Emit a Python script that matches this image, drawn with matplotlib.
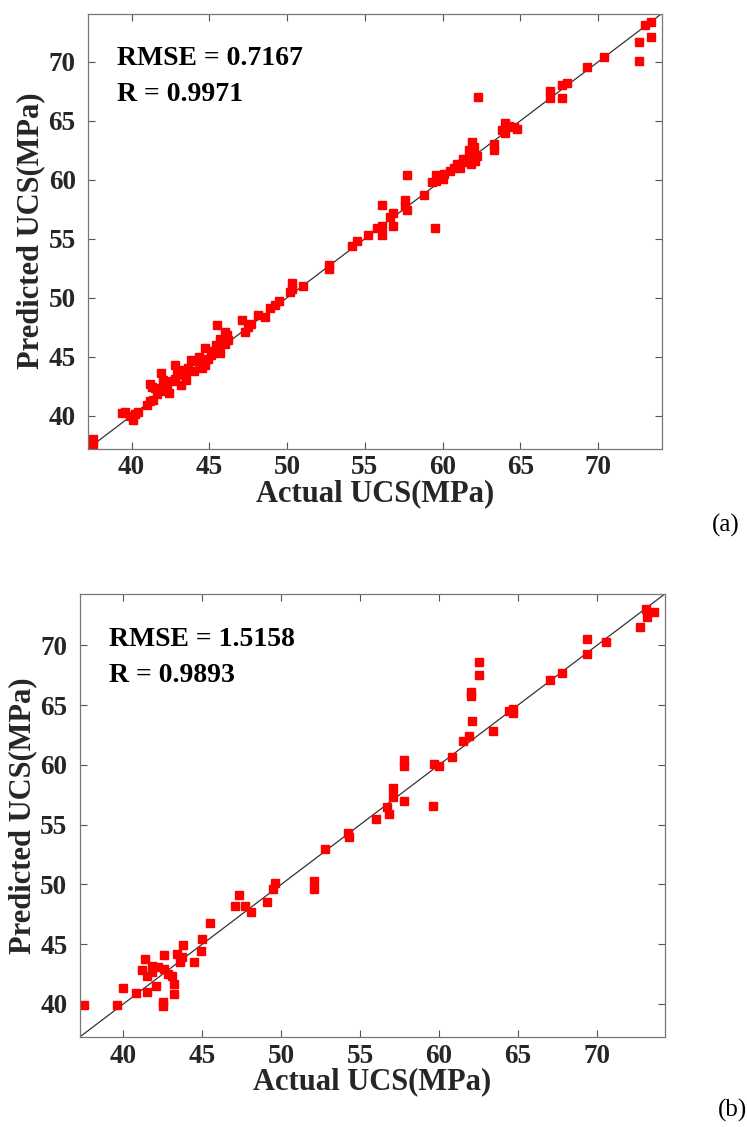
import matplotlib
matplotlib.use("Agg")
import matplotlib.pyplot as plt

plt.rcParams['font.family'] = ['Liberation Serif', 'DejaVu Serif']

# (a) actual vs predicted UCS
actual_a = [37.5, 37.5, 39.4, 39.6, 39.9, 40.1, 40.4, 40.2, 41.0, 41.2, 41.4, 41.2,
            41.5, 41.8, 41.9, 42.0, 42.3, 42.4, 42.1, 42.8, 42.8, 43.0, 43.2, 43.4,
            43.6, 43.8, 43.5, 44.0, 44.7, 44.7, 45.1, 45.2, 44.9, 45.5, 46.0, 45.7,
            46.0, 45.7, 46.1, 47.1, 47.3, 47.5, 47.7, 48.1, 48.6, 48.9, 49.2, 49.5,
            50.2, 50.3, 50.3, 51.0, 52.7, 52.7, 54.2, 54.5, 55.2, 55.8, 56.1, 56.1,
            56.1, 56.6, 56.8, 56.8, 57.6, 57.7, 57.6, 57.7, 58.8, 59.5, 59.3, 59.6,
            59.6, 59.8, 60.0, 60.1, 60.5, 60.9, 61.1, 60.7, 61.3, 61.3, 61.5, 61.7,
            61.8, 61.9, 62.0, 62.0, 62.1, 62.2, 62.3, 63.3, 63.3, 63.8, 64.0, 64.0,
            64.3, 64.6, 64.8, 66.9, 66.9, 67.7, 67.7, 68.0, 69.3, 70.35, 72.6, 72.6,
            73.0, 73.4, 73.4,
            41.6, 42.6, 43.3, 44.2, 44.5, 45.4, 46.2, 41.3, 42.9, 44.3]
pred_a = [38.0, 37.5, 40.2, 40.3, 40.0, 39.6, 40.3, 40.1, 40.9, 41.2, 41.3, 42.7,
          42.3, 42.1, 43.6, 43.0, 42.3, 41.9, 42.5, 44.3, 43.1, 43.5, 42.6, 43.4,
          44.0, 44.7, 43.0, 43.8, 45.7, 44.3, 45.1, 45.5, 44.8, 47.7, 47.1, 45.3,
          46.1, 46.5, 46.8, 48.1, 47.1, 47.5, 47.8, 48.5, 48.4, 49.1, 49.4, 49.7,
          50.5, 51.2, 50.7, 51.0, 52.8, 52.4, 54.4, 54.8, 55.3, 55.9, 56.1, 55.3,
          57.9, 56.8, 57.2, 56.1, 58.3, 57.4, 57.8, 60.4, 58.7, 55.9, 59.8, 60.4,
          59.9, 60.2, 60.1, 60.5, 60.7, 61.3, 61.0, 61.0, 61.5, 61.8, 61.8, 62.5,
          61.3, 63.2, 62.8, 62.2, 61.6, 62.0, 67.0, 63.0, 62.5, 64.2, 64.8, 64.0,
          64.6, 64.5, 64.3, 67.5, 66.9, 66.9, 68.0, 68.2, 69.6, 70.4, 71.7, 70.1,
          73.1, 73.4, 72.1,
          41.8, 42.9, 43.9, 44.6, 44.0, 46.0, 46.4, 42.4, 43.6, 45.0]

# (b) actual vs predicted UCS
actual_b = [37.5, 39.6, 40.0, 40.8, 41.4, 41.2, 41.5, 41.5, 41.8, 41.8, 42.1, 42.2,
            42.5, 42.5, 42.6, 42.6, 42.8, 43.1, 43.2, 43.2, 43.4, 43.6, 43.7, 43.8,
            44.5, 44.9, 45.0, 45.5, 47.1, 47.3, 47.7, 48.1, 49.1, 49.5, 49.6, 52.1,
            52.1, 52.75, 54.2, 54.3, 56.0, 56.7, 56.8, 57.1, 57.1, 57.8, 57.8, 57.8,
            59.6, 59.7, 60.0, 60.8, 61.5, 61.9, 62.1, 62.0, 62.0, 62.5, 62.5, 63.4,
            64.4, 64.7, 64.7, 67.0, 67.8, 69.4, 69.4, 70.6, 72.7, 73.1, 73.2, 73.6]
pred_b = [39.9, 39.9, 41.3, 40.9, 43.8, 42.8, 42.3, 41.0, 43.2, 42.7, 41.5, 43.1,
          40.2, 39.8, 44.1, 42.9, 42.5, 42.3, 41.7, 40.8, 44.2, 43.5, 43.9, 44.9,
          43.5, 44.4, 45.4, 46.8, 48.2, 49.1, 48.2, 47.7, 48.5, 49.6, 50.1, 50.3,
          49.6, 53.0, 54.3, 54.0, 55.5, 56.5, 55.9, 57.3, 58.1, 60.4, 59.9, 57.0,
          56.6, 60.1, 59.9, 60.7, 62.0, 62.4, 63.7, 66.1, 65.8, 67.5, 68.6, 62.8,
          64.5, 64.7, 64.3, 67.1, 67.7, 70.5, 69.3, 70.3, 71.5, 73.0, 72.4, 72.8]

ticks = [40, 45, 50, 55, 60, 65, 70]
panels = [
    (actual_a, pred_a, (37.2, 74.1), "RMSE = 0.7167", "R = 0.9971", "(a)",
     [0.118, 0.602, 0.768, 0.386]),
    (actual_b, pred_b, (37.25, 74.3), "RMSE = 1.5158", "R = 0.9893", "(b)",
     [0.107, 0.080, 0.783, 0.393]),
]

fig = plt.figure(figsize=(7.47, 11.27), dpi=100)

for act, pred, lim, rmse_txt, r_txt, tag, rect in panels:
    ax = fig.add_axes(rect)
    ax.plot(lim, lim, color='#333333', lw=0.9, zorder=1)
    ax.plot(act, pred, 's', color='#ff0000', mec='#ff0000', ms=5.8, zorder=2)
    ax.set_xlim(lim)
    ax.set_ylim(lim)
    ax.set_xticks(ticks)
    ax.set_yticks(ticks)
    ax.tick_params(direction='in', length=5, width=0.8, color='#555555',
                   top=True, right=True, labelsize=19.5, labelcolor='#262626')
    ax.tick_params(axis='y', pad=9)
    ax.tick_params(axis='x', pad=5)
    for lab in ax.get_xticklabels() + ax.get_yticklabels():
        lab.set_fontweight('bold')
    for sp in ax.spines.values():
        sp.set_color('#777777')
        sp.set_linewidth(0.9)
    ax.set_xlabel("Actual UCS(MPa)", fontsize=22, fontweight='bold',
                  color='#262626', labelpad=-1)
    ax.set_ylabel("Predicted UCS(MPa)", fontsize=22, fontweight='bold',
                  color='#262626', labelpad=2)
    ax.text(0.05, 0.897, rmse_txt, transform=ax.transAxes, fontsize=20,
            fontweight='bold', va='center', ha='left')
    ax.text(0.05, 0.815, r_txt, transform=ax.transAxes, fontsize=20,
            fontweight='bold', va='center', ha='left')

fig.text(0.953, 0.534, "(a)", fontsize=18, ha='left', va='center')
fig.text(0.961, 0.015, "(b)", fontsize=18, ha='left', va='center')

fig.savefig("out.png", dpi=100)
